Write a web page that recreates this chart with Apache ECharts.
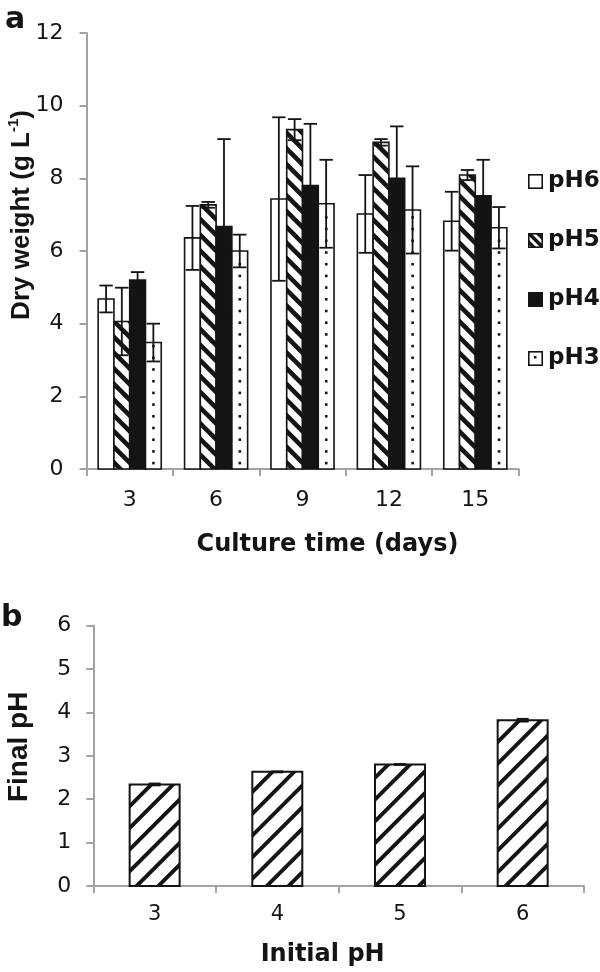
<!DOCTYPE html>
<html><head><meta charset="utf-8">
<script src="https://cdn.jsdelivr.net/npm/echarts@6/dist/echarts.min.js"></script>
<style>html,body{margin:0;padding:0;background:#fff}#c{width:600px;height:972px}</style>
</head><body><div id="c"></div>
<script>
// ---------- data: panel a ----------
const days = ['3', '6', '9', '12', '15'];
const seriesNames = ['pH6', 'pH5', 'pH4', 'pH3'];
const pH6 = [4.68, 6.36, 7.43, 7.02, 6.82];
const pH6Err = [0.37, 0.88, 2.25, 1.07, 0.81];
const pH5 = [4.06, 7.27, 9.34, 8.99, 8.09];
const pH5Err = [0.93, 0.08, 0.29, 0.09, 0.14];
const pH4 = [5.20, 6.67, 7.80, 8.00, 7.52];
const pH4Err = [0.22, 2.41, 1.70, 1.43, 0.99];
const pH3 = [3.48, 6.00, 7.30, 7.13, 6.64];
const pH3Err = [0.52, 0.45, 1.21, 1.20, 0.57];
// ---------- data: panel b ----------
const initialPH = ['3', '4', '5', '6'];
const finalPH = [2.34, 2.63, 2.80, 3.82];
const finalPHErr = [0.02, 0.01, 0.01, 0.03];

const INK = '#141414';
const AXIS = '#a3a3a3';

function clipEdge(pts, inside, inter) {
  const out = [];
  for (let i = 0; i < pts.length; i++) {
    const cur = pts[i], prev = pts[(i + pts.length - 1) % pts.length];
    const ci = inside(cur), pi = inside(prev);
    if (ci) { if (!pi) out.push(inter(prev, cur)); out.push(cur); }
    else if (pi) out.push(inter(prev, cur));
  }
  return out;
}
function clipRect(pts, x0, x1, y0, y1) {
  const ix = (a, b, x) => [x, a[1] + (b[1] - a[1]) * (x - a[0]) / (b[0] - a[0])];
  const iy = (a, b, y) => [a[0] + (b[0] - a[0]) * (y - a[1]) / (b[1] - a[1]), y];
  pts = clipEdge(pts, p => p[0] >= x0, (a, b) => ix(a, b, x0)); if (!pts.length) return pts;
  pts = clipEdge(pts, p => p[0] <= x1, (a, b) => ix(a, b, x1)); if (!pts.length) return pts;
  pts = clipEdge(pts, p => p[1] >= y0, (a, b) => iy(a, b, y0)); if (!pts.length) return pts;
  pts = clipEdge(pts, p => p[1] <= y1, (a, b) => iy(a, b, y1));
  return pts;
}
function stripes(x0, x1, y0, y1, m, P, T) {
  const cs = [y0 - m * x0, y0 - m * x1, y1 - m * x0, y1 - m * x1];
  const cmin = Math.min(...cs) - T, cmax = Math.max(...cs);
  const res = [];
  for (let c = Math.floor(cmin / P) * P; c <= cmax; c += P) {
    const xa = x0 - 2, xb = x1 + 2;
    const poly = [[xa, m * xa + c], [xb, m * xb + c], [xb, m * xb + c + T], [xa, m * xa + c + T]];
    const cp = clipRect(poly, x0, x1, y0, y1);
    if (cp.length >= 3) res.push({ type: 'polygon', shape: { points: cp }, style: { fill: INK }, silent: true });
  }
  return res;
}

function errorBar(api, cx, v, e, capW, lw) {
  const yt = api.coord([0, v + e])[1];
  const yb = api.coord([0, Math.max(0, v - e)])[1];
  const st = { stroke: INK, lineWidth: lw };
  return [
    { type: 'line', shape: { x1: cx, y1: yt, x2: cx, y2: yb }, style: st },
    { type: 'line', shape: { x1: cx - capW / 2, y1: yt, x2: cx + capW / 2, y2: yt }, style: st },
    { type: 'line', shape: { x1: cx - capW / 2, y1: yb, x2: cx + capW / 2, y2: yb }, style: st }
  ];
}

function groupedSeries(k, values, errs, kind) {
  return {
    type: 'custom', name: seriesNames[k], xAxisIndex: 0, yAxisIndex: 0,
    itemStyle: { color: INK },
    data: values.map((v, i) => [i, v, errs[i]]),
    encode: { x: 0, y: 1 },
    renderItem: function (params, api) {
      const i = api.value(0), v = api.value(1), e = api.value(2);
      const band = api.size([1, 0])[0];
      const groupW = band * (1 - 0.27);
      const bw = groupW / 4;
      const base = api.coord([i, 0]);
      const yTop = api.coord([i, v])[1];
      const x0 = base[0] - groupW / 2 + k * bw, x1 = x0 + bw;
      const y0 = yTop, y1 = base[1];
      const ch = [];
      ch.push({ type: 'rect', shape: { x: x0, y: y0, width: bw, height: y1 - y0 }, style: { fill: kind === 'solid' ? INK : '#fff' } });
      if (kind === 'hatch') ch.push(...stripes(x0, x1, y0, y1, 1, 15.7, 6.5));
      if (kind === 'dots') {
        const cx = (x0 + x1) / 2;
        for (let y = y1 - 6; y > y0 + 2; y -= 11.7) {
          ch.push({ type: 'rect', shape: { x: cx - 1.2, y: y - 1.2, width: 2.6, height: 2.6 }, style: { fill: INK } });
        }
      }
      ch.push({ type: 'rect', shape: { x: x0, y: y0, width: bw, height: y1 - y0 }, style: { fill: null, stroke: INK, lineWidth: 1.6 } });
      ch.push(...errorBar(api, (x0 + x1) / 2, v, e, bw * 0.85, 1.8));
      return { type: 'group', children: ch };
    }
  };
}

function makeIcon(kind) {
  const c = document.createElement('canvas'); c.width = 15; c.height = 15;
  const g = c.getContext('2d');
  g.fillStyle = '#fff'; g.fillRect(0, 0, 15, 15);
  g.fillStyle = INK;
  if (kind === 'solid') g.fillRect(0, 0, 15, 15);
  if (kind === 'hatch') {
    g.save(); g.beginPath(); g.rect(0, 0, 15, 15); g.clip();
    for (let c0 = -30; c0 < 30; c0 += 9) {
      g.beginPath();
      g.moveTo(-2, -2 + c0); g.lineTo(17, 17 + c0); g.lineTo(17, 22 + c0); g.lineTo(-2, 3 + c0); g.closePath(); g.fill();
    }
    g.restore();
  }
  if (kind === 'dots') g.fillRect(6, 5, 2.5, 2.5);
  g.strokeStyle = INK; g.lineWidth = 1.6; g.strokeRect(0.8, 0.8, 13.4, 13.4);
  return 'image://' + c.toDataURL();
}
const kinds = ['plain', 'hatch', 'solid', 'dots'];

const chart = echarts.init(document.getElementById('c'), null, { renderer: 'canvas' });
const labelFont = 'DejaVu Sans';
const axisLineStyle = { show: true, lineStyle: { color: AXIS, width: 2 } };
const tickStyle = { show: true, length: 7, lineStyle: { color: AXIS, width: 2 } };

chart.setOption({
  animation: false,
  backgroundColor: '#fff',
  graphic: [
    { type: 'text', left: 5, top: 5, style: { text: 'a', font: 'bold 30px "DejaVu Sans"', fill: INK } },
    { type: 'text', left: 1, top: 603, style: { text: 'b', font: 'bold 30px "DejaVu Sans"', fill: INK } }
  ],
  legend: {
    orient: 'vertical', left: 523, top: 165, itemWidth: 15, itemHeight: 15, itemGap: 36,
    selectedMode: false,
    textStyle: { fontFamily: labelFont, fontWeight: 'bold', fontSize: 23, color: INK },
    data: seriesNames.map((n, i) => ({ name: n, icon: makeIcon(kinds[i]) }))
  },
  grid: [
    { left: 86.5, top: 33, width: 432, height: 436, outerBoundsMode: 'none', containLabel: false },
    { left: 93.3, top: 625.6, width: 490.7, height: 260.4, outerBoundsMode: 'none', containLabel: false }
  ],
  xAxis: [
    {
      type: 'category', gridIndex: 0, data: days, boundaryGap: true,
      axisLine: axisLineStyle, axisTick: tickStyle,
      axisLabel: { fontFamily: labelFont, fontSize: 22, color: INK, margin: 20 },
      name: 'Culture time (days)', nameLocation: 'middle', nameGap: 64, nameMoveOverlap: false,
      nameTextStyle: { fontFamily: labelFont, fontWeight: 'bold', fontSize: 24, color: INK, padding: [0, 0, 0, 50] }
    },
    {
      type: 'category', gridIndex: 1, data: initialPH, boundaryGap: true,
      axisLine: axisLineStyle, axisTick: tickStyle,
      axisLabel: { fontFamily: labelFont, fontSize: 21, color: INK, margin: 18 },
      name: 'Initial pH', nameLocation: 'middle', nameGap: 57, nameMoveOverlap: false,
      nameTextStyle: { fontFamily: labelFont, fontWeight: 'bold', fontSize: 24, color: INK, padding: [0, 32, 0, 0] }
    }
  ],
  yAxis: [
    {
      type: 'value', gridIndex: 0, min: 0, max: 12, interval: 2,
      axisLine: axisLineStyle, axisTick: tickStyle, splitLine: { show: false },
      axisLabel: { fontFamily: labelFont, fontSize: 22, color: INK, margin: 23 },
      name: '{n|Dry weight (g L}{s|-1}{n|)}', nameLocation: 'middle', nameGap: 50, nameRotate: 90,
      nameMoveOverlap: false,
      nameTextStyle: {
        padding: [0, 0, 0, 72],
        rich: {
          n: { fontFamily: 'Liberation Sans', fontWeight: 'bold', fontSize: 26, color: INK, lineHeight: 30 },
          s: { fontFamily: 'Liberation Sans', fontWeight: 'bold', fontSize: 15, color: INK, lineHeight: 16, verticalAlign: 'top' }
        }
      }
    },
    {
      type: 'value', gridIndex: 1, min: 0, max: 6, interval: 1,
      axisLine: axisLineStyle, axisTick: tickStyle, splitLine: { show: false },
      axisLabel: { fontFamily: labelFont, fontSize: 22, color: INK, margin: 22 },
      name: 'Final pH', nameLocation: 'middle', nameGap: 60, nameRotate: 90, nameMoveOverlap: false,
      nameTextStyle: { fontFamily: 'Liberation Sans', fontWeight: 'bold', fontSize: 28, color: INK, padding: [0, 0, 0, 18] }
    }
  ],
  series: [
    groupedSeries(0, pH6, pH6Err, 'plain'),
    groupedSeries(1, pH5, pH5Err, 'hatch'),
    groupedSeries(2, pH4, pH4Err, 'solid'),
    groupedSeries(3, pH3, pH3Err, 'dots'),
    {
      type: 'custom', name: 'Final pH', xAxisIndex: 1, yAxisIndex: 1,
      data: finalPH.map((v, i) => [i, v, finalPHErr[i]]),
      encode: { x: 0, y: 1 },
      renderItem: function (params, api) {
        const i = api.value(0), v = api.value(1), e = api.value(2);
        const band = api.size([1, 0])[0];
        const bw = band * 0.4075;
        const base = api.coord([i, 0]);
        const yTop = api.coord([i, v])[1];
        const x0 = base[0] - bw / 2, x1 = x0 + bw, y0 = yTop, y1 = base[1];
        const ch = [{ type: 'rect', shape: { x: x0, y: y0, width: bw, height: y1 - y0 }, style: { fill: '#fff' } }];
        ch.push(...stripes(x0, x1, y0, y1, -1, 21.7, 5.5));
        ch.push({ type: 'rect', shape: { x: x0, y: y0, width: bw, height: y1 - y0 }, style: { fill: null, stroke: INK, lineWidth: 2 } });
        ch.push(...errorBar(api, base[0], v, e, 12, 2));
        return { type: 'group', children: ch };
      }
    }
  ]
});
</script>
</body></html>
